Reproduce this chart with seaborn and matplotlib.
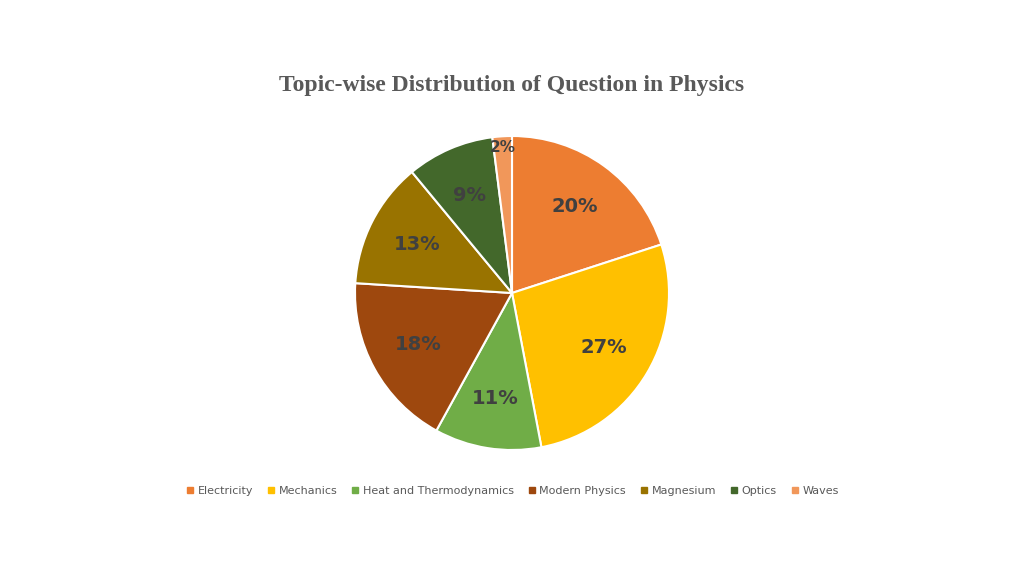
import matplotlib
matplotlib.use("Agg")
import matplotlib.pyplot as plt
import seaborn as sns
from matplotlib.lines import Line2D

sns.set_theme(style="white")
plt.rcParams['font.family'] = ['DejaVu Sans']

topics = ["Electricity", "Mechanics", "Heat and Thermodynamics", "Modern Physics",
          "Magnesium", "Optics", "Waves"]
shares = [20, 27, 11, 18, 13, 9, 2]
colors = ["#ED7D31", "#FFC000", "#70AD47", "#9E480E", "#997300", "#43682B", "#F1975A"]

fig = plt.figure(figsize=(10.24, 5.76), dpi=100)
fig.patch.set_facecolor("white")
ax = fig.add_axes([(512 - 157) / 1024, (576 - 450) / 576, 314 / 1024, 314 / 576])
wedges, texts, autotexts = ax.pie(
    shares, colors=colors, startangle=90, counterclock=False,
    autopct=lambda p: f"{p:.0f}%", pctdistance=0.68,
    wedgeprops=dict(edgecolor="white", linewidth=1.5),
    textprops=dict(color="#404040", fontsize=14, fontweight="bold"))
# move small slice label outward
x, y = autotexts[-1].get_position()
autotexts[-1].set_position((x * 0.93 / 0.68, y * 0.93 / 0.68))
autotexts[-1].set_fontsize(11)
ax.set_xlim(-1, 1); ax.set_ylim(-1, 1); ax.set_aspect("equal")

fig.text(0.5, 1 - 85 / 576, "Topic-wise Distribution of Question in Physics",
         ha="center", va="center", fontsize=17, fontweight="bold",
         color="#595959", family="Liberation Serif")

handles = [Line2D([0], [0], marker="s", linestyle="", markersize=5,
                  markerfacecolor=c, markeredgecolor=c) for c in colors]
fig.legend(handles, topics, loc="center", bbox_to_anchor=(0.5, 1 - 491 / 576),
           ncol=7, frameon=False, fontsize=8, handlelength=0.8,
           handletextpad=0.3, columnspacing=1.2, labelcolor="#595959")

fig.savefig("out.png", dpi=100, facecolor="white")
